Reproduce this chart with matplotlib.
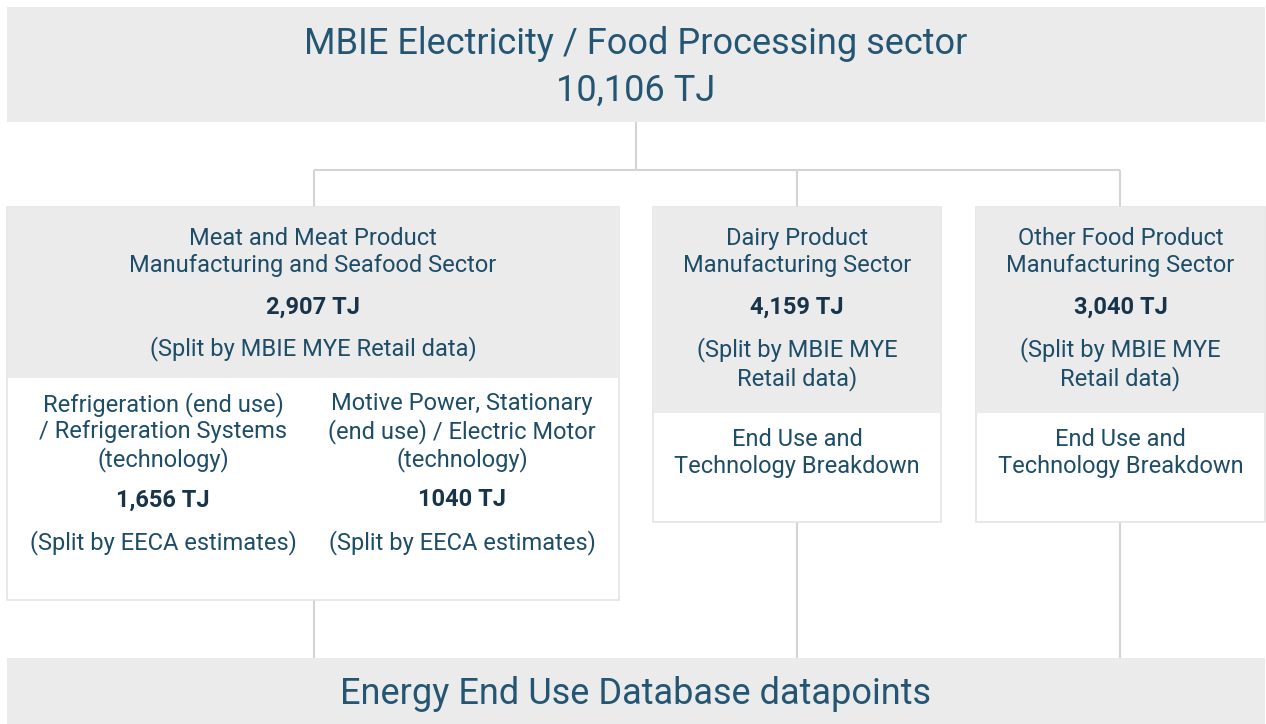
import matplotlib
matplotlib.use('Agg')
import matplotlib.pyplot as plt
from matplotlib.patches import Rectangle

plt.rcParams['font.family'] = ['Roboto', 'DejaVu Sans']

# diagram content
top_title = 'MBIE Electricity / Food Processing sector'
top_total = '10,106 TJ'
bottom_label = 'Energy End Use Database datapoints'

sector_names = ['Meat and Meat Product\nManufacturing and Seafood Sector',
                'Dairy Product\nManufacturing Sector',
                'Other Food Product\nManufacturing Sector']
sector_tj = ['2,907 TJ', '4,159 TJ', '3,040 TJ']
sector_notes = ['(Split by MBIE MYE Retail data)',
                '(Split by MBIE MYE\nRetail data)',
                '(Split by MBIE MYE\nRetail data)']

meat_enduses = ['Refrigeration (end use)\n/ Refrigeration Systems\n(technology)',
                'Motive Power, Stationary\n(end use) / Electric Motor\n(technology)']
meat_enduse_tj = ['1,656 TJ', '1040 TJ']
meat_enduse_note = '(Split by EECA estimates)'
breakdown_label = 'End Use and\nTechnology Breakdown'

GREY = '#ebebeb'
EDGE = '#e4e4e4'
LINE = '#d4d4d4'
TXT = '#1e4d68'
BOLD = '#17344a'

W, H = 1266, 724
fig = plt.figure(figsize=(W / 100, H / 100), dpi=100)
ax = fig.add_axes([0, 0, 1, 1])
ax.set_xlim(0, W)
ax.set_ylim(H, 0)
ax.axis('off')


def box(x0, y0, x1, y1, fc, ec='none'):
    ax.add_patch(Rectangle((x0, y0), x1 - x0, y1 - y0, facecolor=fc,
                           edgecolor=ec, lw=1.2, zorder=1))


def line(xs, ys):
    ax.plot(xs, ys, color=LINE, lw=1.5, zorder=0, solid_capstyle='butt')


def txt(x, y, s, size=17, weight='normal', color=TXT, ls=1.2):
    ax.text(x, y, s, ha='center', va='center', fontsize=size,
            fontweight=weight, color=color, linespacing=ls, zorder=3)


# top box
box(7, 7, 1265, 122, GREY)
txt(636, 44, top_title, size=26, color='#245673')
txt(636, 91, top_total, size=26, color='#245673')

# connectors
cx = [314, 797, 1120]
line([636, 636], [122, 170])
line([cx[0], cx[2]], [170, 170])
for x in cx:
    line([x, x], [170, 207])
line([cx[0], cx[0]], [600, 658])
line([cx[1], cx[1]], [522, 658])
line([cx[2], cx[2]], [522, 658])

# sector boxes: (x0, x1, grey bottom, box bottom)
frames = [(7, 619, 378, 600), (653, 941, 413, 522), (976, 1265, 413, 522)]
for i, (x0, x1, gb, bb) in enumerate(frames):
    box(x0, 207, x1, bb, 'white', EDGE)
    box(x0, 207, x1, gb, GREY)
    xc = (x0 + x1) / 2
    txt(xc, 252, sector_names[i])
    txt(xc, 307, sector_tj[i], weight='bold', color=BOLD)
    if i == 0:
        txt(xc, 349, sector_notes[i])
    else:
        txt(xc, 364, sector_notes[i])
        txt(xc, 453, breakdown_label)

# meat sub-breakdown
for x, s, v in zip([163, 462], meat_enduses, meat_enduse_tj):
    txt(x, 432, s)
    txt(x, 500, v, weight='bold', color=BOLD)
    txt(x, 543, meat_enduse_note)

# bottom box
box(7, 658, 1265, 724, GREY)
txt(636, 694, bottom_label, size=26, color='#245673')

fig.savefig('out.png', dpi=100)
